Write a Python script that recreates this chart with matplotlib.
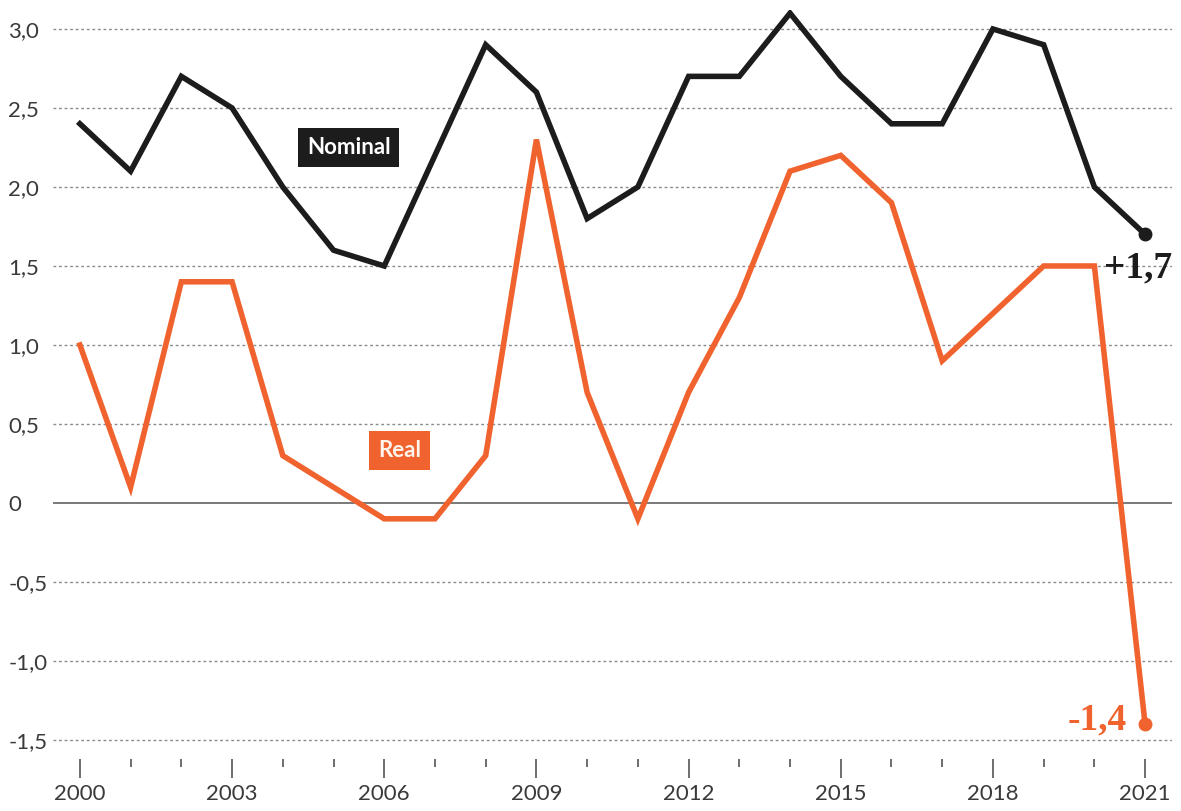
import numpy as np
import matplotlib
matplotlib.use('Agg')
import matplotlib.pyplot as plt
from matplotlib.ticker import FixedLocator

years = list(range(2000, 2022))
nominal = [2.4, 2.1, 2.7, 2.5, 2.0, 1.6, 1.5, 2.2, 2.9, 2.6, 1.8,
           2.0, 2.7, 2.7, 3.1, 2.7, 2.4, 2.4, 3.0, 2.9, 2.0, 1.7]
real = [1.0, 0.1, 1.4, 1.4, 0.3, 0.1, -0.1, -0.1, 0.3, 2.3, 0.7,
        -0.1, 0.7, 1.3, 2.1, 2.2, 1.9, 0.9, 1.2, 1.5, 1.5, -1.4]
yticks = [-1.5, -1.0, -0.5, 0, 0.5, 1.0, 1.5, 2.0, 2.5, 3.0]
xlabels = [2000, 2003, 2006, 2009, 2012, 2015, 2018, 2021]

BLACK = '#1c1c1c'
ORANGE = '#f0632f'
GREY = '#3a3a3a'

plt.rcParams['font.family'] = ['Lato', 'DejaVu Sans']

fig = plt.figure(figsize=(11.81, 8.11), dpi=100)
# axes in pixel terms: left 53, right 1172, top 10, bottom 759
ax = fig.add_axes([53/1181, 1 - 759/811, (1172-53)/1181, (759-10)/811])

ax.set_xlim(2000 - 0.53, 2021 + 0.53)
ax.set_ylim(-1.62, 3.12)

for v in yticks:
    if v == 0:
        ax.axhline(0, color='#555555', lw=1.1, zorder=1)
    else:
        ax.axhline(v, color='#8a8a8a', lw=1.0, ls=(0, (2, 2)), zorder=1)

ax.plot(years, nominal, color=BLACK, lw=4.0, solid_joinstyle='miter', zorder=3)
ax.plot(years, real, color=ORANGE, lw=4.0, solid_joinstyle='miter', zorder=3)
ax.plot(years[-1], nominal[-1], 'o', color=BLACK, ms=9, zorder=4)
ax.plot(years[-1], real[-1], 'o', color=ORANGE, ms=9, zorder=4)

for s in ax.spines.values():
    s.set_visible(False)

ax.xaxis.set_major_locator(FixedLocator(xlabels))
ax.xaxis.set_minor_locator(FixedLocator([y for y in years if y not in xlabels]))
ax.set_xticklabels([str(x) for x in xlabels])
ax.tick_params(axis='x', which='major', length=14, width=1.2, color='#555555',
               labelsize=16, labelcolor=GREY, pad=4)
ax.tick_params(axis='x', which='minor', length=6, width=1.2, color='#555555')

ax.set_yticks(yticks)
ax.set_yticklabels([('%.1f' % v).replace('.', ',') if v != 0 else '0' for v in yticks])
ax.tick_params(axis='y', length=0, labelsize=16, labelcolor=GREY, pad=0)
for lab in ax.get_yticklabels():
    lab.set_horizontalalignment('left')
    lab.set_x(-0.04)

ax.text(2005.3, 2.25, 'Nominal', color='white', fontsize=16, fontweight='bold',
        ha='center', va='center', zorder=5,
        bbox=dict(boxstyle='square,pad=0.4', fc=BLACK, ec='none'))
ax.text(2006.3, 0.33, 'Real', color='#fff4ec', fontsize=16, fontweight='bold',
        ha='center', va='center', zorder=5,
        bbox=dict(boxstyle='square,pad=0.4', fc=ORANGE, ec='none'))

ax.text(2021.53, 1.49, '+1,7', color=BLACK, fontsize=27, fontweight='bold',
        family='Liberation Serif', ha='right', va='center', zorder=5)
ax.text(2020.65, -1.37, '-1,4', color=ORANGE, fontsize=27, fontweight='bold',
        family='Liberation Serif', ha='right', va='center', zorder=5)

fig.savefig('out.png', dpi=100)
